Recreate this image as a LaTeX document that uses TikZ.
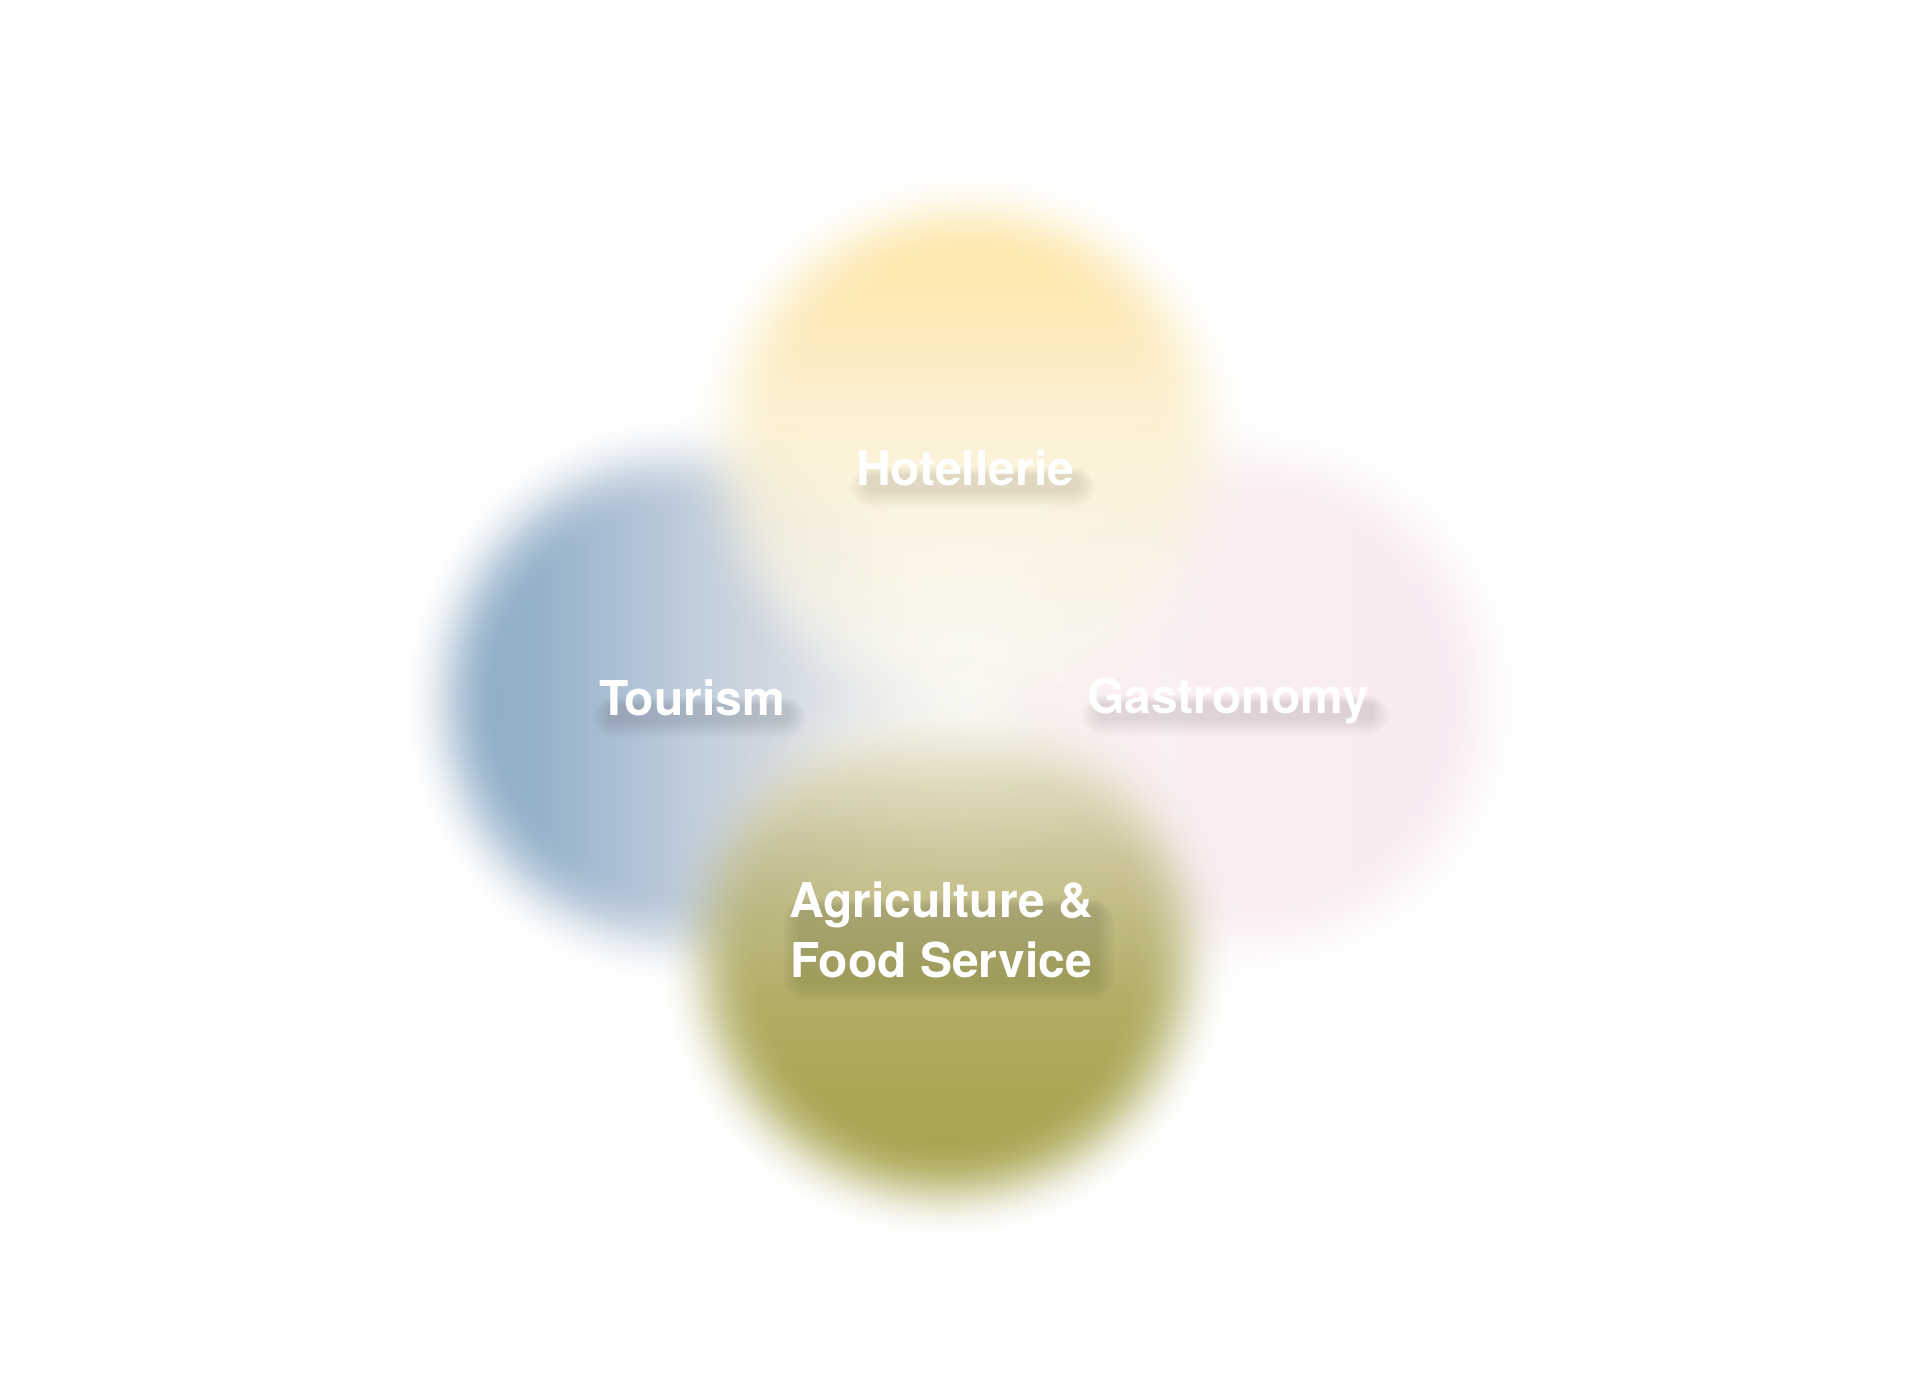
\documentclass[tikz,border=0pt]{standalone}
\usepackage{fontspec}
\setmainfont{TeX Gyre Heros}
\usetikzlibrary{fadings}
\pgfdeclareradialshading{blurshade}{\pgfpointorigin}{%
 color(0bp)=(pgftransparent!0); color(14.8bp)=(pgftransparent!0);
 color(16.0bp)=(pgftransparent!6); color(17.0bp)=(pgftransparent!18);
 color(18.05bp)=(pgftransparent!36); color(19.06bp)=(pgftransparent!58);
 color(20.08bp)=(pgftransparent!78); color(21.09bp)=(pgftransparent!92);
 color(22.1bp)=(pgftransparent!99); color(22.7bp)=(pgftransparent!100);
 color(50bp)=(pgftransparent!100)}
\pgfdeclarefading{blurdisc}{\pgfuseshading{blurshade}}
\pgfdeclarelayer{back}
\pgfdeclarelayer{shad}
\pgfsetlayers{back,shad,main}
% yellow (top to bottom)
\definecolor{yelA}{RGB}{252,226,152}
\definecolor{yelB}{RGB}{252,230,170}
\definecolor{yelC}{RGB}{252,237,198}
\definecolor{yelD}{RGB}{251,241,213}
\definecolor{yelE}{RGB}{250,244,226}
\definecolor{yelF}{RGB}{249,247,236}
\pgfdeclareverticalshading{yelsh}{100bp}{color(0bp)=(yelF); color(35.5bp)=(yelF);
 color(41.8bp)=(yelE); color(48bp)=(yelD); color(54.3bp)=(yelC); color(60.5bp)=(yelB);
 color(66bp)=(yelA); color(100bp)=(yelA)}
% blue (left to right)
\definecolor{bluA}{RGB}{143,173,199}
\definecolor{bluB}{RGB}{150,178,202}
\definecolor{bluC}{RGB}{172,192,211}
\definecolor{bluD}{RGB}{192,206,220}
\definecolor{bluE}{RGB}{206,214,224}
\definecolor{bluF}{RGB}{222,227,232}
\definecolor{bluG}{RGB}{240,241,242}
\pgfdeclarehorizontalshading{blush}{100bp}{color(0bp)=(bluA); color(33.6bp)=(bluA);
 color(38.3bp)=(bluB); color(44.5bp)=(bluC); color(50bp)=(bluD); color(55.5bp)=(bluE);
 color(60.9bp)=(bluF); color(66.4bp)=(bluG); color(100bp)=(bluG)}
% olive (top to bottom)
\definecolor{olvA}{RGB}{242,240,228}
\definecolor{olvB}{RGB}{218,211,176}
\definecolor{olvC}{RGB}{196,189,136}
\definecolor{olvD}{RGB}{180,174,106}
\definecolor{olvE}{RGB}{166,160,76}
\definecolor{olvF}{RGB}{158,153,58}
\definecolor{olvG}{RGB}{156,150,52}
\pgfdeclareverticalshading{olvsh}{100bp}{color(0bp)=(olvG); color(34.4bp)=(olvG);
 color(39.8bp)=(olvF); color(46.1bp)=(olvE); color(51.6bp)=(olvD); color(57bp)=(olvC);
 color(62.5bp)=(olvB); color(68bp)=(olvA); color(100bp)=(olvA)}
\definecolor{pnkL}{RGB}{252,243,242}
\definecolor{pnkR}{RGB}{248,232,242}
\tikzset{
 blob/.style={path fading=blurdisc, fit fading=true},
 labeltxt/.style={text=white, font=\fontsize{48}{60}\selectfont\bfseries, align=center, anchor=base, inner sep=0pt},
 softshadow/.style={fill=black, opacity=0.011},
}
\newcommand\blurtext[4]{%
 \node[labeltxt] (#1) at (#2,#3) {#4};
 \begin{pgfonlayer}{shad}
 \foreach \g in {0,2,...,16}{%
  \fill[softshadow, rounded corners={\g+6}] ([shift={({10-\g},{26-\g/2})}]#1.north west) rectangle ([shift={({5+\g},{7+\g})}]#1.base east);}
 \end{pgfonlayer}}
\begin{document}
\begin{tikzpicture}[x=1pt,y=-1pt]
\begin{pgfonlayer}{back}
\fill[white] (0,0) rectangle (1920,1391);
\end{pgfonlayer}
\useasboundingbox (0,0) rectangle (1920,1391);
\begin{pgfonlayer}{back}
% pink (Gastronomy)
\shade[blob, left color=pnkL, right color=pnkR] (1240-320,700-320) rectangle (1240+320,700+320);
% blue (Tourism)
\shade[blob, shading=blush] (690-320,700-320) rectangle (690+320,700+320);
% yellow (Hotellerie)
\shade[blob, opacity=0.82, shading=yelsh] (968-320,455-320) rectangle (968+320,455+320);
% olive (Agriculture)
\shade[blob, opacity=0.86, shading=olvsh] (945-320,950-320) rectangle (945+320,950+320);
\end{pgfonlayer}
\blurtext{hot}{965}{485}{Hotellerie}
\blurtext{tour}{692}{715}{Tourism}
\blurtext{gast}{1228}{713}{Gastronomy}
\blurtext{agri}{941}{977}{Agriculture \&\\Food Service}
\end{tikzpicture}
\end{document}
